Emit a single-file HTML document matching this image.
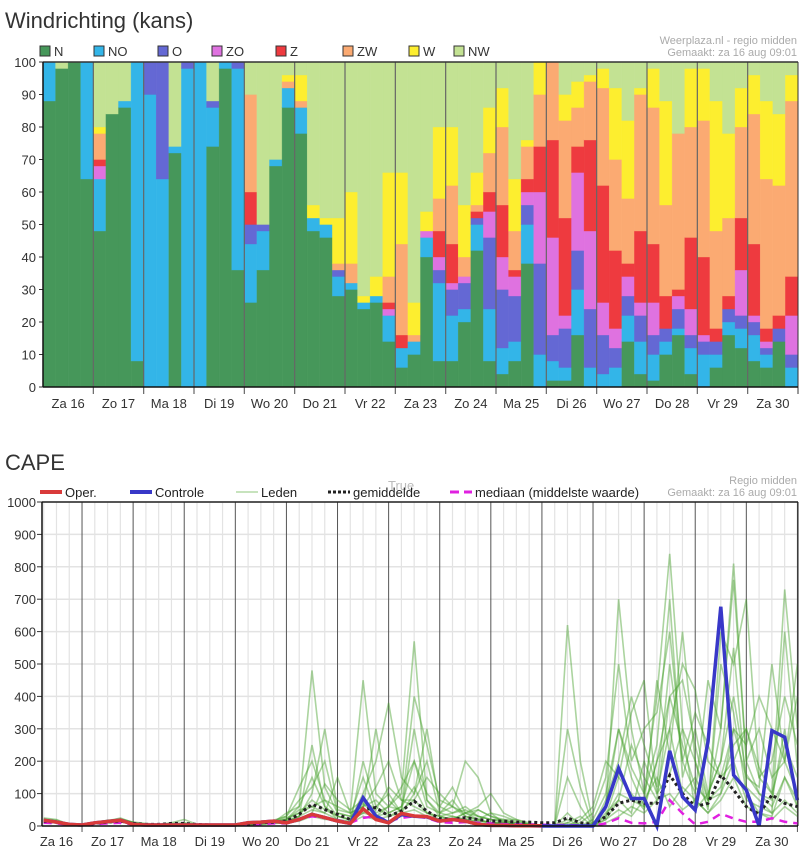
<!DOCTYPE html>
<html><head><meta charset="utf-8">
<style>
html,body{margin:0;padding:0;background:#fff;}
svg{display:block;font-family:"Liberation Sans",sans-serif;}
</style></head>
<body>
<svg id="chart" width="807" height="860" viewBox="0 0 807 860" xmlns="http://www.w3.org/2000/svg">
<text x="5" y="28" font-size="22" fill="#333">Windrichting (kans)</text>
<text x="797" y="44" font-size="11" fill="#aaa" text-anchor="end">Weerplaza.nl - regio midden</text>
<text x="797" y="56" font-size="11" fill="#aaa" text-anchor="end">Gemaakt: za 16 aug 09:01</text>
<g id="windLegend"></g>
<g id="wind"></g>
<text x="5" y="470" font-size="22" fill="#333">CAPE</text>
<text x="797" y="484" font-size="11" fill="#aaa" text-anchor="end">Regio midden</text>
<text x="797" y="496" font-size="11" fill="#aaa" text-anchor="end">Gemaakt: za 16 aug 09:01</text>
<text x="388" y="490" font-size="13" fill="#bbb">True</text>
<g id="capeLegend"></g>
<g id="cape"></g>
</svg>
<script>
const dirNames = ["N","NO","O","ZO","Z","ZW","W","NW"];
const dirColors = ["#46975a","#33b5e8","#6468d4","#df72e0","#ee3a3f","#fbaa72","#fdee2f","#c3e293"];
const dayLabels = ["Za 16","Zo 17","Ma 18","Di 19","Wo 20","Do 21","Vr 22","Za 23","Zo 24","Ma 25","Di 26","Wo 27","Do 28","Vr 29","Za 30"];
const windTicks = [0,10,20,30,40,50,60,70,80,90,100];
const windCum = [
[88,100,100,100,100,100,100,100],[98,98,98,98,98,98,98,100],[100,100,100,100,100,100,100,100],[64,100,100,100,100,100,100,100],
[48,64,64,68,70,78,80,100],[84,84,84,84,84,84,84,100],[86,88,88,88,88,88,88,100],[8,100,100,100,100,100,100,100],
[0,90,100,100,100,100,100,100],[0,64,100,100,100,100,100,100],[72,74,74,74,74,74,74,100],[0,98,100,100,100,100,100,100],
[0,100,100,100,100,100,100,100],[74,86,88,88,88,88,88,100],[98,100,100,100,100,100,100,100],[36,98,100,100,100,100,100,100],
[26,44,50,50,60,90,90,100],[36,48,50,50,50,50,50,100],[68,70,70,70,70,70,70,100],[86,92,92,92,92,94,96,100],
[78,86,86,86,86,88,96,100],[48,52,52,52,52,52,56,100],[46,50,50,50,50,50,52,100],[28,34,36,36,36,38,52,100],
[30,32,32,32,32,38,60,100],[24,26,26,26,26,26,28,100],[26,28,28,28,28,28,34,100],[14,22,22,24,26,34,66,100],
[6,12,12,12,16,44,66,100],[10,14,14,14,14,16,26,100],[40,46,46,48,48,48,54,100],[8,32,36,40,48,58,80,100],
[8,22,30,32,44,62,80,100],[20,24,32,34,34,40,56,100],[42,50,52,52,54,56,66,100],[8,24,46,54,60,72,86,100],
[4,12,30,40,56,80,92,100],[8,14,28,34,36,48,64,100],[38,50,56,60,64,74,76,100],[0,10,38,60,74,90,100,100],
[2,8,16,46,76,100,100,100],[2,6,18,22,52,82,90,100],[16,30,42,66,74,86,94,100],[0,6,24,48,76,94,96,100],
[0,4,16,26,62,92,98,100],[0,6,12,18,42,70,92,100],[14,22,28,34,38,58,82,100],[4,14,22,26,48,90,92,100],
[2,10,16,26,44,86,98,100],[10,14,18,18,28,56,88,100],[16,18,24,28,30,78,78,100],[4,12,16,24,46,80,98,100],
[0,10,14,16,40,82,98,100],[6,10,14,14,18,48,88,100],[16,20,24,24,28,52,78,100],[12,18,22,36,52,80,92,100],
[8,16,20,22,44,84,96,100],[6,10,12,14,18,64,88,100],[14,14,18,18,22,62,84,100],[0,6,10,22,34,88,96,100]
];

const capeTicks = [0,100,200,300,400,500,600,700,800,900,1000];
const operValues = [18,12,5,3,10,14,18,5,3,3,3,3,3,3,3,3,10,12,15,10,20,36,26,15,8,53,20,10,39,31,29,15,20,15,5,2,2,1,1,1];
const controleValues = [18,12,5,3,10,14,18,5,3,3,3,3,3,3,3,3,10,12,15,10,20,36,26,15,8,87,31,10,35,30,28,15,20,15,5,2,2,1,1,0,0,0,0,0,60,178,85,85,0,232,90,49,260,677,157,111,0,294,274,80];
const meanValues = [15,12,5,3,8,12,15,8,5,5,8,8,5,3,3,3,5,10,12,15,36,67,51,36,20,51,57,31,46,77,46,23,20,26,20,15,15,12,12,10,10,25,10,5,29,70,80,70,70,157,100,60,70,157,111,60,36,96,70,60];
const medianValues = [10,8,3,2,6,8,10,5,3,3,3,3,3,2,2,2,3,6,8,8,20,30,25,18,10,25,30,15,25,30,25,12,10,12,10,8,6,5,5,4,3,3,2,0,8,24,10,8,13,80,39,5,13,38,23,13,13,24,13,8];
const member1 = [20,15,5,3,10,15,25,10,5,5,10,20,5,3,3,3,5,10,15,20,60,480,120,40,30,60,80,40,60,200,100,60,40,50,30,20,15,10,5,0,0,10,0,20,100,300,150,60,200,400,250,120,80,300,810,200,100,60,150,80];
const member2 = [25,20,5,3,8,12,20,8,5,3,5,10,5,3,3,3,3,8,12,15,30,100,300,50,40,450,100,60,100,570,80,40,60,30,20,40,10,5,3,0,0,620,200,10,50,700,300,100,400,840,300,200,50,600,500,700,150,100,730,300];
const member3 = [15,10,5,3,10,18,22,12,8,5,5,5,3,3,3,3,5,12,18,30,120,200,80,30,20,100,200,380,150,100,300,60,120,40,50,30,20,20,10,0,0,0,20,60,200,150,350,450,100,300,500,420,200,150,300,250,400,300,200,500];
const member4 = [18,12,5,3,8,12,18,10,5,5,5,8,3,3,3,3,3,8,10,10,20,40,130,80,50,80,50,120,80,60,40,30,20,40,60,100,40,20,5,0,0,300,120,0,60,300,180,100,250,700,150,300,100,200,550,120,80,40,600,180];
const member5 = [20,15,5,3,10,12,15,10,5,3,3,3,3,3,3,3,5,10,12,40,60,150,60,20,10,200,60,30,50,400,250,80,60,200,150,40,30,15,5,0,0,0,0,10,30,100,80,60,450,220,600,200,80,100,300,150,120,500,200,400];
const member6 = [22,18,5,3,10,15,18,10,5,5,8,8,5,3,3,3,5,10,14,20,50,60,40,150,40,60,300,80,40,100,200,40,30,20,50,30,15,10,5,0,0,40,0,0,80,200,400,250,120,500,200,100,450,300,760,200,300,150,200,100];
const member7 = [15,12,5,3,8,10,15,8,5,3,3,3,3,3,3,3,3,5,8,10,30,250,60,30,20,40,60,100,40,300,80,30,20,40,20,10,10,5,5,0,0,150,60,0,20,80,40,200,100,160,300,50,100,200,400,160,100,80,300,50];
const member8 = [20,15,5,3,10,15,22,12,5,5,5,5,3,3,3,3,5,10,15,30,80,120,200,40,30,150,40,60,120,200,60,40,80,30,20,10,10,5,3,0,0,0,10,40,150,500,200,300,350,600,200,350,250,150,200,300,150,200,400,250];
const member9 = [18,12,5,3,8,12,18,8,5,5,5,5,3,3,3,3,3,8,12,20,40,80,50,30,20,70,30,40,60,120,40,30,40,60,30,20,10,5,3,0,0,20,0,0,30,150,100,50,200,300,100,150,60,500,350,100,40,30,150,60];
const member10 = [20,15,5,3,10,12,18,10,5,5,5,5,3,3,3,3,5,10,12,25,40,60,80,60,40,60,120,200,80,80,150,100,60,40,30,20,20,10,5,0,0,10,30,0,40,80,250,150,80,400,450,250,80,120,250,300,180,100,250,150];
const member11 = [15,10,5,3,8,10,12,8,5,3,3,3,3,3,3,3,3,5,10,10,15,30,20,20,10,30,20,30,40,50,30,20,30,20,15,10,5,5,3,0,0,0,0,0,10,30,60,40,80,100,50,80,40,80,150,60,40,20,60,30];
const member12 = [20,15,5,3,10,15,20,10,5,5,5,5,3,3,3,3,5,10,15,15,30,50,40,20,15,40,30,60,50,80,40,20,20,20,15,10,10,5,3,0,0,0,0,0,20,50,30,80,150,60,120,80,40,100,200,80,60,40,80,40];
const members = [member1,member2,member3,member4,member5,member6,member7,member8,member9,member10,member11,member12];

const NS = "http://www.w3.org/2000/svg";
function mk(tag, attrs, parent){ const e=document.createElementNS(NS,tag); for(const k in attrs) e.setAttribute(k,attrs[k]); parent.appendChild(e); return e; }

const wX0=43, wX1=798, wY0=387, wY1=62;
const nBars = windCum.length;
const barW = (wX1-wX0)/nBars;
function wx(i){ return wX0 + i*barW; }
function wy(v){ return wY0 - (v/100)*(wY0-wY1); }
const wg = document.getElementById('wind');
const wl = document.getElementById('windLegend');
const legX = [40,94,158,212,276,343,409,454];
dirNames.forEach((n,k)=>{
  const g = mk('g',{},wl);
  
  
  mk('rect',{x:legX[k],y:46,width:10,height:10,fill:dirColors[k],stroke:'#333','stroke-width':1},g);
  const t = mk('text',{x:legX[k]+14,y:56,'font-size':13,fill:'#333'},g); t.textContent=n;
});
windTicks.forEach(v=>{
  const t = mk('text',{x:36,y:wy(v)+5,'font-size':13,fill:'#333','text-anchor':'end'},wg);
  
  
  t.textContent = v;
  mk('line',{x1:39,x2:wX0,y1:wy(v),y2:wy(v),stroke:'#333'},wg);
});
windCum.forEach((cum,i)=>{
  let prev=0;
  cum.forEach((top,k)=>{
    if(top>prev){
      const r = mk('rect',{x:wx(i),y:wy(top),width:barW,height:wy(prev)-wy(top),fill:dirColors[k],stroke:dirColors[k],'stroke-opacity':0.6,'stroke-width':0.6},wg);
      
      
    }
    prev = Math.max(prev,top);
  });
});
for(let d=1; d<dayLabels.length; d++){
  const x = wx(d*4);
  mk('line',{x1:x,x2:x,y1:wY1,y2:wY0+7,stroke:'#666','stroke-width':1.2},wg);
}
mk('line',{x1:wX0,x2:wX1,y1:wY1,y2:wY1,stroke:'#333','stroke-width':1.5},wg);
mk('line',{x1:wX1,x2:wX1,y1:wY1,y2:wY0+7,stroke:'#333','stroke-width':1},wg);
mk('line',{x1:wX0,x2:wX0,y1:wY1,y2:wY0,stroke:'#111','stroke-width':1.5},wg);
mk('line',{x1:wX0,x2:wX1,y1:wY0,y2:wY0,stroke:'#111','stroke-width':1.5},wg);
dayLabels.forEach((lab,d)=>{
  const t = mk('text',{x:wx(d*4+2),y:408,'font-size':13,fill:'#333','text-anchor':'middle'},wg);
  
  
  t.textContent = lab;
});

const cX0=42, cX1=798, cY0=826, cY1=502;
const tX0=43.7, tStep=12.775;
function cx(t){ return tX0 + t*tStep; }
function cy(v){ return cY0 - (v/1000)*(cY0-cY1); }
const cg = document.getElementById('cape');
const cl = document.getElementById('capeLegend');
capeTicks.forEach(v=>{
  mk('line',{x1:cX0,x2:cX1,y1:cy(v),y2:cy(v),stroke:'#e3e3e3','stroke-width':1.5},cg);
  mk('line',{x1:cX0-5,x2:cX0,y1:cy(v),y2:cy(v),stroke:'#333'},cg);
  const t = mk('text',{x:36,y:cy(v)+5,'font-size':13,fill:'#333','text-anchor':'end'},cg);
  
  
  t.textContent = v;
});
for(let t=0; t<60; t++){
  if((t+1)%4!==0) mk('line',{x1:cx(t),x2:cx(t),y1:cY1,y2:cY0,stroke:'#e3e3e3','stroke-width':1.2},cg);
}
for(let t=3; t<60; t+=4){
  mk('line',{x1:cx(t),x2:cx(t),y1:cY1,y2:cY0+6,stroke:'#555','stroke-width':1},cg);
}
function line(vals, attrs, name){
  const p = mk('polyline',Object.assign({points:vals.map((v,t)=>cx(t).toFixed(1)+','+cy(v).toFixed(1)).join(' '),fill:'none','stroke-linejoin':'miter'},attrs),cg);
  
  
}
members.forEach((m,i)=>line(m,{stroke:'#45a02a','stroke-opacity':0.45,'stroke-width':1.6},'member-line-'+(i+1)));
line(medianValues,{stroke:'#e020e0','stroke-width':2.5,'stroke-dasharray':'8,6'},'median-line');
line(meanValues,{stroke:'#222','stroke-width':3,'stroke-dasharray':'3,3'},'mean-line');
line(controleValues,{stroke:'#3838c8','stroke-width':3.5},'controle-line');
line(operValues,{stroke:'#d93a3a','stroke-width':3.5},'oper-line');
mk('line',{x1:cX0,x2:cX1,y1:cY1,y2:cY1,stroke:'#222','stroke-width':1.5},cg);
mk('line',{x1:cX1,x2:cX1,y1:cY1,y2:cY0,stroke:'#222','stroke-width':1},cg);
mk('line',{x1:cX0,x2:cX0,y1:cY1,y2:cY0,stroke:'#111','stroke-width':1.5},cg);
mk('line',{x1:cX0,x2:cX1,y1:cY0,y2:cY0,stroke:'#111','stroke-width':1.5},cg);
dayLabels.forEach((lab,d)=>{
  const t = mk('text',{x:cx(3)+51.1*(d-0.5),y:846,'font-size':13,fill:'#333','text-anchor':'middle'},cg);
  
  
  t.textContent = lab;
});
const capeLeg = [
  {n:'Oper.',x:40,c:'#d93a3a',d:'',w:4},
  {n:'Controle',x:130,c:'#3838c8',d:'',w:4},
  {n:'Leden',x:236,c:'#c7e3bd',d:'',w:2},
  {n:'gemiddelde',x:328,c:'#222',d:'3,2',w:3},
  {n:'mediaan (middelste waarde)',x:450,c:'#e020e0',d:'9,5',w:3}
];
capeLeg.forEach(e=>{
  const g = mk('g',{},cl);
  
  
  const l = mk('line',{x1:e.x,x2:e.x+22,y1:492,y2:492,stroke:e.c,'stroke-width':e.w},g);
  if(e.d) l.setAttribute('stroke-dasharray',e.d);
  const t = mk('text',{x:e.x+25,y:497,'font-size':13,fill:'#222'},g); t.textContent=e.n;
});
</script>
</body></html>
